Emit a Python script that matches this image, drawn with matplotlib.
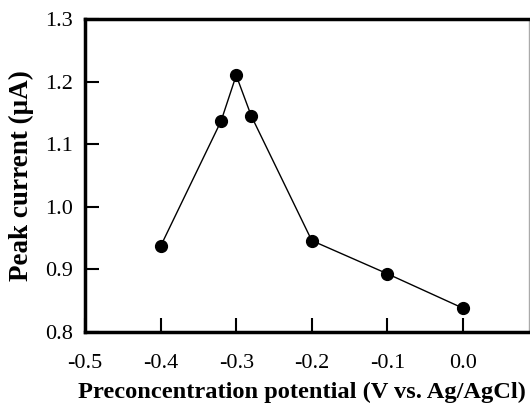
import matplotlib
matplotlib.use("Agg")
import matplotlib.pyplot as plt

potential = [-0.4, -0.32, -0.3, -0.28, -0.2, -0.1, 0.0]
current = [0.937, 1.137, 1.210, 1.145, 0.946, 0.893, 0.838]
xticks = [-0.5, -0.4, -0.3, -0.2, -0.1, 0.0]
yticks = [0.8, 0.9, 1.0, 1.1, 1.2, 1.3]

plt.rcParams['font.family'] = ['Liberation Serif', 'DejaVu Serif']
fig = plt.figure(figsize=(5.30, 4.03), dpi=100)
ax = fig.add_axes([85/530, 1-332/403, (529-85)/530, (332-19)/403])
ax.plot(potential, current, color='black', lw=1.0, marker='o', ms=8.5, mfc='black', mec='black')
ax.set_xlim(-0.5, 0.0873)
ax.set_ylim(0.8, 1.3)
ax.set_xticks(xticks)
ax.set_xticklabels([f"{v:.1f}" for v in xticks])
ax.set_yticks(yticks)
ax.set_yticklabels([f"{v:.1f}" for v in yticks])
ax.tick_params(direction='in', length=10, width=1.5, labelsize=16)
ax.tick_params(axis='y', pad=9)
ax.tick_params(axis='x', pad=16)
for s in ['left', 'bottom', 'top']:
    ax.spines[s].set_linewidth(2.5)
ax.spines['right'].set_linewidth(1.0)
ax.spines['right'].set_color('#aaaaaa')
fig.text(301.5/530, (403-398)/403, 'Preconcentration potential (V vs. Ag/AgCl)',
         fontsize=17.6, fontweight='bold', ha='center', va='baseline')
ax.set_ylabel('Peak current (μA)', fontsize=19.5, fontweight='bold', labelpad=8)
fig.savefig('out.png', dpi=100)
